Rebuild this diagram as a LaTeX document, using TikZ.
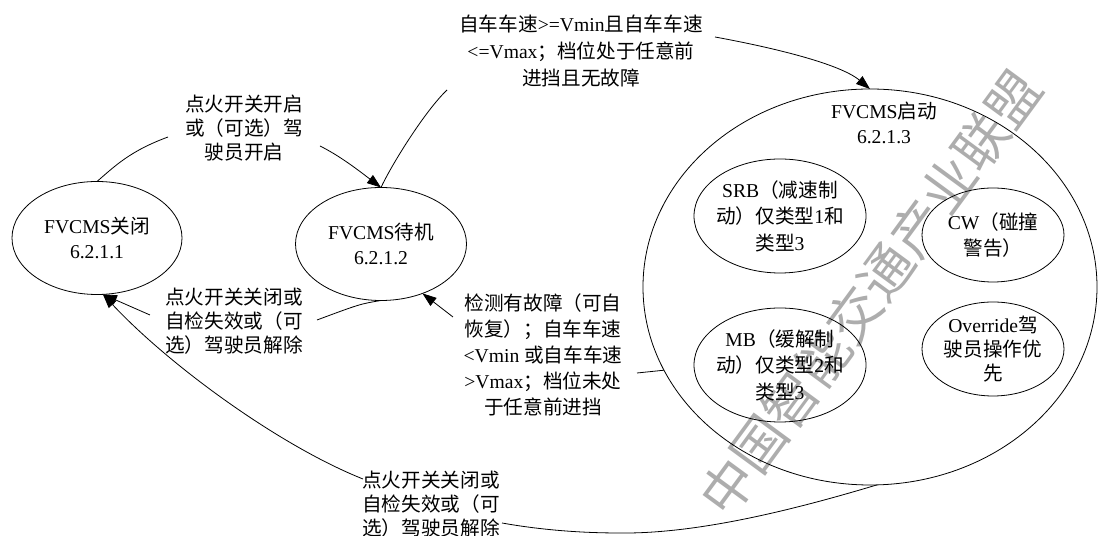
\documentclass[tikz,border=0pt]{standalone}
\usepackage{fontspec}
\setmainfont{Liberation Serif}
\newfontfamily\cjkfont{Noto Sans CJK SC}
\newcommand\zh[1]{{\cjkfont #1}}
\usetikzlibrary{shapes.geometric,arrows.meta}
\begin{document}
\begin{tikzpicture}[x=1bp,y=1bp, line width=0.8bp,
  ell/.style={draw, ellipse, inner sep=0pt, outer sep=0pt},
  txt/.style={align=center, inner sep=0pt, font=\fontsize{19.7}{25}\selectfont},
  lbl/.style={align=center, inner sep=0pt},
  arr/.style={-{Triangle[length=14bp,width=10bp]}},
  ]
\useasboundingbox (0,0) rectangle (1099,536);
% watermark (behind)
\node[rotate=53.7, text=black!32, font=\cjkfont\fontsize{53.7}{60}\selectfont, inner sep=0pt] (wm) at (870,243) {中国智能交通产业联盟};
% states
\node[ell, minimum width=170bp, minimum height=113bp] (e1) at (97,298) {};
\node[txt] (e1t) at (e1.center) {FVCMS\zh{关闭}\\6.2.1.1};
\node[ell, minimum width=171bp, minimum height=113bp] (e2) at (381,292) {};
\node[txt] (e2t) at (e2.center) {FVCMS\zh{待机}\\6.2.1.2};
\node[ell, minimum width=454bp, minimum height=396bp] (e3) at (870,249) {};
\node[txt] (e3t) at (884,413.5) {FVCMS\zh{启动}\\6.2.1.3};
\node[ell, minimum width=172bp, minimum height=114bp] (srb) at (780,320) {};
\node[txt, font=\fontsize{19.7}{26.5}\selectfont] (srbt) at (srb.center) {SRB\zh{（减速制}\\\zh{动）仅类型}1\zh{和}\\\zh{类型}3};
\node[ell, minimum width=142bp, minimum height=94bp] (cw) at (993,301) {};
\node[txt, font=\fontsize{19.7}{26}\selectfont] (cwt) at (cw.center) {CW\zh{（碰撞}\\\zh{警告）}};
\node[ell, minimum width=172bp, minimum height=114bp] (mb) at (780,171) {};
\node[txt, font=\fontsize{19.7}{26.5}\selectfont] (mbt) at (mb.center) {MB\zh{（缓解制}\\\zh{动）仅类型}2\zh{和}\\\zh{类型}3};
\node[ell, minimum width=142bp, minimum height=94bp] (ov) at (993,187) {};
\node[txt, font=\fontsize{19.7}{24}\selectfont] (ovt) at (ov.center) {Override\zh{驾}\\\zh{驶员操作优}\\\zh{先}};
% labels
\node[lbl, font=\fontsize{19.7}{24.5}\selectfont] (l1) at (244,408) {\zh{点火开关开启}\\\zh{或（可选）驾}\\\zh{驶员开启}};
\node[lbl, font=\fontsize{19.7}{27}\selectfont] (l2) at (581,485) {\zh{自车车速}>=Vmin\zh{且自车车速}\\<=Vmax\zh{；档位处于任意前}\\\zh{进挡且无故障}};
\node[lbl, font=\fontsize{19.7}{24}\selectfont] (l3) at (234,215) {\zh{点火开关关闭或}\\\zh{自检失效或（可}\\\zh{选）驾驶员解除}};
\node[lbl, font=\fontsize{19.7}{26}\selectfont] (l4) at (543,181) {\zh{检测有故障（可自}\\\zh{恢复）；自车车速}\\<Vmin \zh{或自车车速}\\>Vmax\zh{；档位未处}\\\zh{于任意前进挡}};
\node[lbl, font=\fontsize{19.7}{24}\selectfont] (l5) at (431,32) {\zh{点火开关关闭或}\\\zh{自检失效或（可}\\\zh{选）驾驶员解除}};
% connector break points
\coordinate (c1a) at (168,399); \coordinate (c1b) at (320,390);
\coordinate (c2a) at (447,446); \coordinate (c2b) at (715,499);
\coordinate (c3a) at (317,216); \coordinate (c3b) at (150,221);
\coordinate (c4a) at (637,163); \coordinate (c4b) at (453,219);
\coordinate (c5a) at (502,13);  \coordinate (c5b) at (363,57);
% connectors
\draw (e1.north) .. controls (115,370) and (130,385) .. (c1a);
\draw[arr] (c1b) .. controls (340,380) and (358,366) .. (e2.north);
\draw (e2.north) .. controls (392,372) and (425,425) .. (c2a);
\draw[arr] (c2b) .. controls (775,488) and (840,472) .. (e3.north);
\draw (e2.south) .. controls (360,232) .. (c3a);
\draw[arr] (c3b) -- (e1.-84);
\draw (e3.202) -- (c4a);
\draw[arr] (c4b) -- (e2.-50);
\draw (e3.-88) .. controls (800,28) and (700,2) .. (620,3) .. controls (570,3) and (530,8) .. (c5a);
\draw[arr] (c5b) .. controls (280,90) and (170,170) .. (e1.-84);
\end{tikzpicture}
\end{document}
